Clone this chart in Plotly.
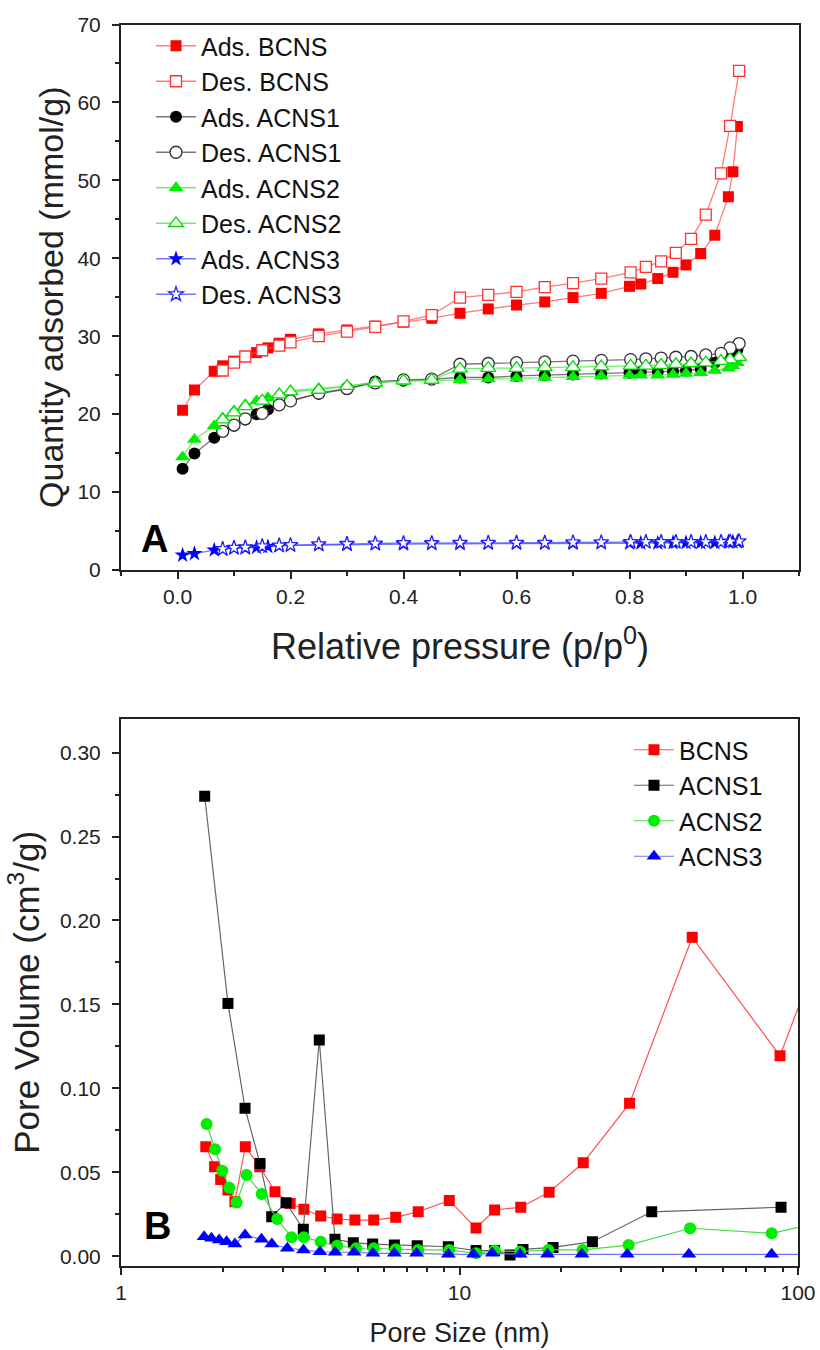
import plotly.graph_objects as go

# ---------------- Panel A: N2 adsorption / desorption isotherms ----------------
ads_p = [0.009, 0.03, 0.065, 0.08, 0.10, 0.12, 0.14, 0.16, 0.18, 0.20, 0.25, 0.30, 0.35,
         0.40, 0.45, 0.50, 0.55, 0.60, 0.65, 0.70, 0.75, 0.80, 0.82, 0.85, 0.877, 0.90,
         0.926, 0.951, 0.975, 0.983, 0.991]
ads_bcns = [20.5, 23.1, 25.5, 26.2, 26.8, 27.4, 27.9, 28.5, 29.1, 29.6, 30.3, 30.8, 31.3,
            31.8, 32.3, 32.95, 33.5, 34.0, 34.4, 34.96, 35.5, 36.4, 36.7, 37.4, 38.2, 39.15,
            40.6, 42.97, 47.9, 51.1, 56.9]
ads_acns1 = [13.0, 14.96, 16.97, 17.8, 18.5, 19.3, 20.0, 20.6, 21.2, 21.8, 22.6, 23.2, 24.2,
             24.3, 24.5, 24.7, 24.7, 24.9, 25.0, 25.1, 25.2, 25.3, 25.4, 25.4, 25.5, 25.6,
             25.8, 26.6, 27.6, 28.0, 28.3]
ads_acns2 = [14.5, 16.75, 18.5, 19.5, 20.4, 21.2, 21.7, 22.1, 22.6, 23.0, 23.3, 23.6, 24.1,
             24.2, 24.3, 24.4, 24.5, 24.6, 24.7, 24.8, 24.9, 25.0, 25.0, 25.0, 25.1, 25.2,
             25.3, 25.6, 25.9, 26.2, 26.6]
ads_acns3 = [1.9, 2.1, 2.56, 2.65, 2.8, 2.8, 2.9, 3.0, 3.1, 3.15, 3.2, 3.25, 3.3,
             3.3, 3.35, 3.35, 3.4, 3.4, 3.4, 3.4, 3.45, 3.45, 3.45, 3.45, 3.5, 3.5,
             3.5, 3.5, 3.6, 3.6, 3.6]

des_p = [0.994, 0.978, 0.962, 0.935, 0.909, 0.882, 0.856, 0.829, 0.802, 0.75, 0.70, 0.65,
         0.60, 0.55, 0.50, 0.45, 0.40, 0.35, 0.30, 0.25, 0.20, 0.18, 0.15, 0.12, 0.10, 0.08]
des_bcns = [64.06, 57.0, 50.9, 45.6, 42.5, 40.7, 39.6, 38.9, 38.2, 37.4, 36.8, 36.3,
            35.7, 35.3, 34.96, 32.7, 31.9, 31.2, 30.6, 30.0, 29.2, 28.8, 28.2, 27.4, 26.6, 25.6]
des_acns1 = [29.06, 28.5, 27.8, 27.6, 27.4, 27.3, 27.2, 27.1, 27.0, 26.9, 26.8, 26.7,
             26.6, 26.5, 26.4, 24.5, 24.4, 24.0, 23.3, 22.7, 21.7, 21.2, 20.1, 19.4, 18.6, 17.8]
des_acns2 = [27.3, 27.0, 26.8, 26.6, 26.5, 26.4, 26.3, 26.2, 26.2, 26.1, 26.0, 26.0,
             25.9, 25.9, 25.8, 24.4, 24.3, 24.0, 23.6, 23.1, 22.9, 22.5, 21.7, 21.0, 20.2, 19.3]
des_acns3 = [3.7, 3.65, 3.6, 3.6, 3.6, 3.6, 3.6, 3.6, 3.6, 3.55, 3.55, 3.5,
             3.5, 3.5, 3.5, 3.45, 3.45, 3.4, 3.35, 3.3, 3.2, 3.15, 3.05, 2.9, 2.85, 2.7]

# ---------------- Panel B: pore size distributions ----------------
size_bcns = [1.78, 1.89, 1.97, 2.07, 2.17, 2.33, 2.57, 2.85, 3.16, 3.47, 3.89, 4.35, 4.91,
             5.58, 6.48, 7.55, 9.33, 11.19, 12.7, 15.17, 18.4, 23.2, 31.8, 48.7, 88.5, 110]
vol_bcns = [0.0652, 0.0533, 0.0458, 0.0395, 0.0325, 0.0652, 0.0533, 0.0385, 0.0315, 0.028,
            0.024, 0.0222, 0.0216, 0.0216, 0.0232, 0.0265, 0.0333, 0.0168, 0.0276, 0.0292,
            0.0381, 0.0557, 0.0911, 0.190, 0.1194, 0.17]
size_acns1 = [1.767, 2.07, 2.325, 2.574, 2.787, 3.073, 3.456, 3.853, 4.287, 4.857, 5.54,
              6.42, 7.5, 9.27, 11.19, 12.7, 14.1, 15.4, 18.9, 24.7, 36.97, 89.1]
vol_acns1 = [0.274, 0.1506, 0.0881, 0.0553, 0.0236, 0.0319, 0.0161, 0.1288, 0.0101, 0.0081,
             0.0073, 0.0067, 0.0063, 0.0057, 0.0034, 0.0034, 0.0008, 0.0041, 0.0053, 0.0087,
             0.0265, 0.0292]
size_acns2 = [1.79, 1.896, 1.992, 2.09, 2.195, 2.35, 2.604, 2.894, 3.19, 3.47, 3.89, 4.35,
              4.95, 5.58, 6.48, 7.55, 9.33, 11.19, 12.7, 15.1, 18.3, 23.1, 31.6, 48, 83.6, 110]
vol_acns2 = [0.0788, 0.0637, 0.051, 0.0408, 0.0321, 0.0484, 0.0371, 0.0222, 0.0113, 0.0113,
             0.0087, 0.0063, 0.0048, 0.0048, 0.0042, 0.0038, 0.0038, 0.0018, 0.0034, 0.0027,
             0.0038, 0.0038, 0.0067, 0.0167, 0.0137, 0.0192]
size_acns3 = [1.76, 1.85, 1.95, 2.05, 2.17, 2.325, 2.6, 2.79, 3.1, 3.46, 3.87, 4.29, 4.88,
              5.55, 6.42, 7.47, 9.27, 11.0, 12.5, 15.1, 18.2, 23.0, 31.3, 47.6, 83.6, 110]
vol_acns3 = [0.0117, 0.0107, 0.0097, 0.0087, 0.0073, 0.0127, 0.0101, 0.0073, 0.0048, 0.0038,
             0.0027, 0.0024, 0.0024, 0.0018, 0.0018, 0.0018, 0.0012, 0.0012, 0.0018, 0.0012,
             0.0012, 0.0012, 0.0012, 0.0012, 0.0012, 0.0012]

FONT = "Liberation Sans, Arial, sans-serif"
W, H = 820, 1350


def px_x(p):
    return p / W


def px_y(p):
    return 1 - p / H


fig = go.Figure()

# isotherm series: (name, x, y, marker symbol, marker colour, line colour, filled?, size)
iso = [
    ("Ads. BCNS", ads_p, ads_bcns, "square", "#ff0000", "rgba(255,80,80,0.75)", True, 11),
    ("Des. BCNS", des_p, des_bcns, "square", "#ff3030", "rgba(255,80,80,0.75)", False, 11),
    ("Ads. ACNS1", ads_p, ads_acns1, "circle", "#000000", "rgba(60,60,60,0.7)", True, 12),
    ("Des. ACNS1", des_p, des_acns1, "circle", "#333333", "rgba(60,60,60,0.7)", False, 12),
    ("Ads. ACNS2", ads_p, ads_acns2, "triangle-up", "#00ee00", "rgba(60,230,60,0.75)", True, 13),
    ("Des. ACNS2", des_p, des_acns2, "triangle-up", "#00dd00", "rgba(60,230,60,0.75)", False, 13),
    ("Ads. ACNS3", ads_p, ads_acns3, "star", "#0000ff", "rgba(70,70,255,0.75)", True, 12),
    ("Des. ACNS3", des_p, des_acns3, "star", "#2020ff", "rgba(70,70,255,0.75)", False, 11),
]
for name, xs, ys, sym, mc, lc, filled, ms in iso:
    marker = dict(symbol=sym, size=ms,
                  color=mc if filled else "white",
                  line=dict(color=mc, width=0 if filled else 1.3))
    fig.add_trace(go.Scatter(x=xs, y=ys, name=name, mode="lines+markers",
                             line=dict(color=lc, width=1.3), marker=marker,
                             xaxis="x", yaxis="y", legend="legend"))

# pore size distributions
psd = [
    ("BCNS", size_bcns, vol_bcns, "square", "#ff0000", "#ff5050", 11),
    ("ACNS1", size_acns1, vol_acns1, "square", "#000000", "#666666", 11),
    ("ACNS2", size_acns2, vol_acns2, "circle", "#00ee00", "#40e040", 12),
    ("ACNS3", size_acns3, vol_acns3, "triangle-up", "#0000ff", "#7070ff", 13),
]
for name, xs, ys, sym, mc, lc, ms in psd:
    fig.add_trace(go.Scatter(x=xs, y=ys, name=name, mode="lines+markers",
                             line=dict(color=lc, width=1.2),
                             marker=dict(symbol=sym, size=ms, color=mc),
                             xaxis="x2", yaxis="y2", legend="legend2"))

axis_common = dict(showline=True, linecolor="#222", linewidth=2, mirror=True,
                   ticks="outside", ticklen=7, tickwidth=1.5, tickcolor="#222",
                   showgrid=False, zeroline=False, automargin=False,
                   tickfont=dict(family=FONT, size=21, color="#222"))
minor_style = dict(ticks="outside", ticklen=4, tickcolor="#222", tickwidth=1.5)

fig.update_layout(
    width=W, height=H,
    margin=dict(l=0, r=0, t=0, b=0, autoexpand=False),
    paper_bgcolor="white", plot_bgcolor="white",
    showlegend=True,
    xaxis=dict(axis_common, domain=[px_x(121), px_x(799)], anchor="y",
               range=[-0.1, 1.1], tickvals=[0, 0.2, 0.4, 0.6, 0.8, 1.0],
               ticktext=["0.0", "0.2", "0.4", "0.6", "0.8", "1.0"],
               minor=dict(minor_style, tickvals=[-0.1, 0.1, 0.3, 0.5, 0.7, 0.9, 1.1]),
               title=dict(text="Relative pressure (p/p<sup>0</sup>)", standoff=27,
                          font=dict(family=FONT, size=36, color="#222"))),
    yaxis=dict(axis_common, domain=[px_y(570), px_y(24.5)], anchor="x",
               range=[0, 70], dtick=10, ticklabelstandoff=7,
               minor=dict(minor_style, dtick=5),
               title=dict(text="Quantity adsorbed (mmol/g)", standoff=4,
                          font=dict(family=FONT, size=34, color="#222"))),
    xaxis2=dict(axis_common, domain=[px_x(121), px_x(798)], anchor="y2",
                type="log", range=[0, 2], tickvals=[1, 10, 100], ticktext=["1", "10", "100"],
                minor=dict(minor_style,
                           tickvals=[2, 3, 4, 5, 6, 7, 8, 9, 20, 30, 40, 50, 60, 70, 80, 90]),
                title=dict(text="Pore Size (nm)", standoff=20,
                           font=dict(family=FONT, size=27, color="#222"))),
    yaxis2=dict(axis_common, domain=[px_y(1265.7), px_y(719)], anchor="x2",
                range=[-0.0056, 0.32], tickvals=[0, 0.05, 0.10, 0.15, 0.20, 0.25, 0.30],
                ticktext=["0.00", "0.05", "0.10", "0.15", "0.20", "0.25", "0.30"],
                ticklabelstandoff=7,
                minor=dict(minor_style,
                           tickvals=[0.025, 0.075, 0.125, 0.175, 0.225, 0.275]),
                title=dict(text="Pore Volume (cm<sup>3</sup>/g)", standoff=10,
                           font=dict(family=FONT, size=35, color="#222"))),
    legend=dict(x=px_x(151), y=px_y(23), xanchor="left", yanchor="top",
                bgcolor="rgba(0,0,0,0)", borderwidth=0, tracegroupgap=0,
                font=dict(family=FONT, size=25, color="#111"), itemwidth=40),
    legend2=dict(x=px_x(629), y=px_y(727), xanchor="left", yanchor="top",
                 bgcolor="rgba(0,0,0,0)", borderwidth=0,
                 font=dict(family=FONT, size=25, color="#111"), itemwidth=40),
    annotations=[
        dict(text="<b>A</b>", x=px_x(154), y=px_y(539), xref="paper", yref="paper",
             xanchor="center", yanchor="middle",
             showarrow=False, font=dict(family=FONT, size=38, color="#000")),
        dict(text="<b>B</b>", x=px_x(157), y=px_y(1226), xref="paper", yref="paper",
             xanchor="center", yanchor="middle",
             showarrow=False, font=dict(family=FONT, size=38, color="#000")),
    ],
)

fig.write_html("out.html")
